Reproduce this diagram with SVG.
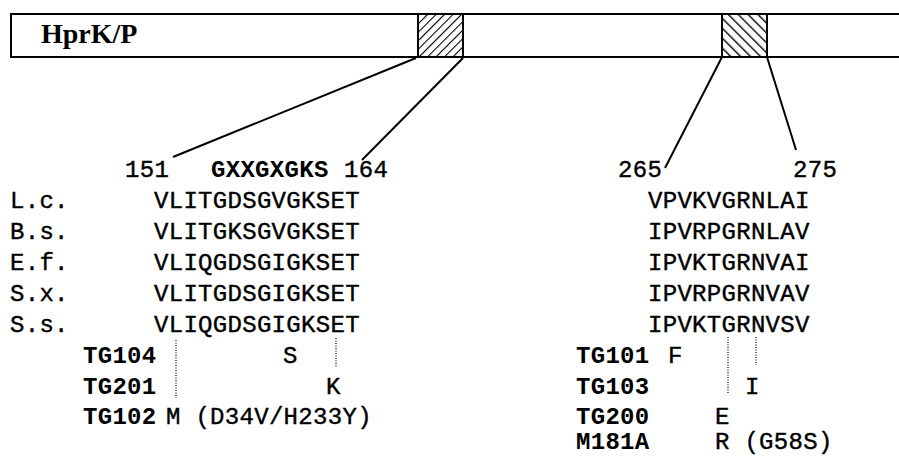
<svg xmlns="http://www.w3.org/2000/svg" width="899" height="456" viewBox="0 0 899 456">
<style>
.mono{font-family:"Liberation Mono","Courier New",monospace;font-size:24px;fill:#000;stroke:#000;stroke-width:0.4;letter-spacing:0.3px}
.b{font-weight:bold;stroke-width:0}
.ln{stroke:#000;stroke-width:2;fill:none}
.dot{stroke:#000;stroke-width:1.2;stroke-dasharray:1 1.5;fill:none}
</style>
<defs>
<pattern id="h1" patternUnits="userSpaceOnUse" width="6" height="6" patternTransform="rotate(45)">
<rect width="6" height="6" fill="#fff"/><line x1="0" y1="0" x2="0" y2="6" stroke="#000" stroke-width="2.2"/>
</pattern>
<pattern id="h2" patternUnits="userSpaceOnUse" width="7" height="7" patternTransform="rotate(-45)">
<rect width="7" height="7" fill="#fff"/><line x1="0" y1="0" x2="0" y2="7" stroke="#000" stroke-width="2.8"/>
</pattern>
</defs>
<rect width="899" height="456" fill="#fff"/>
<g id="bar">
<rect x="11" y="14" width="900" height="43" fill="#fff" stroke="#000" stroke-width="2"/>
<rect x="418" y="14" width="45" height="43" fill="url(#h1)" stroke="#000" stroke-width="2"/>
<rect x="722" y="14" width="45" height="43" fill="url(#h2)" stroke="#000" stroke-width="2"/>
<text x="41" y="43" font-family="Liberation Serif,Times New Roman,serif" font-weight="bold" font-size="28">HprK/P</text>
</g>
<g id="connectors">
<line class="ln" x1="416" y1="58" x2="173" y2="157"/>
<line class="ln" x1="463" y1="58" x2="362" y2="160"/>
<line class="ln" x1="722" y1="57" x2="665" y2="168"/>
<line class="ln" x1="767" y1="57" x2="796" y2="150"/>
<line class="dot" x1="176" y1="340" x2="176" y2="398"/>
<line class="dot" x1="336" y1="338" x2="336" y2="367"/>
<line class="dot" x1="728" y1="337" x2="728" y2="393"/>
<line class="dot" x1="756" y1="337" x2="756" y2="365"/>
</g>
<g id="left">
<text class="mono" x="125" y="177">151</text>
<text class="mono b" x="211" y="177">GXXGXGKS</text>
<text class="mono" x="344" y="177">164</text>
<text class="mono" x="10" y="208">L.c.</text><text class="mono" x="154" y="208">VLITGDSGVGKSET</text>
<text class="mono" x="10" y="239">B.s.</text><text class="mono" x="154" y="239">VLITGKSGVGKSET</text>
<text class="mono" x="10" y="270">E.f.</text><text class="mono" x="154" y="270">VLIQGDSGIGKSET</text>
<text class="mono" x="10" y="301">S.x.</text><text class="mono" x="154" y="301">VLITGDSGIGKSET</text>
<text class="mono" x="10" y="332">S.s.</text><text class="mono" x="154" y="332">VLIQGDSGIGKSET</text>
<text class="mono b" x="83" y="363">TG104</text><text class="mono" x="283" y="363">S</text>
<text class="mono b" x="83" y="394">TG201</text><text class="mono" x="326" y="394">K</text>
<text class="mono b" x="83" y="424">TG102</text><text class="mono" x="166" y="424">M (D34V/H233Y)</text>
</g>
<g id="right">
<text class="mono" x="618" y="177">265</text>
<text class="mono" x="793" y="177">275</text>
<text class="mono" x="648" y="208">VPVKVGRNLAI</text>
<text class="mono" x="648" y="239">IPVRPGRNLAV</text>
<text class="mono" x="648" y="270">IPVKTGRNVAI</text>
<text class="mono" x="648" y="301">IPVRPGRNVAV</text>
<text class="mono" x="648" y="332">IPVKTGRNVSV</text>
<text class="mono b" x="576" y="363">TG101</text><text class="mono" x="668" y="363">F</text>
<text class="mono b" x="576" y="394">TG103</text><text class="mono" x="745" y="394">I</text>
<text class="mono b" x="576" y="424">TG200</text><text class="mono" x="715" y="424">E</text>
<text class="mono b" x="576" y="449">M181A</text><text class="mono" x="715" y="449">R (G58S)</text>
</g>
</svg>
